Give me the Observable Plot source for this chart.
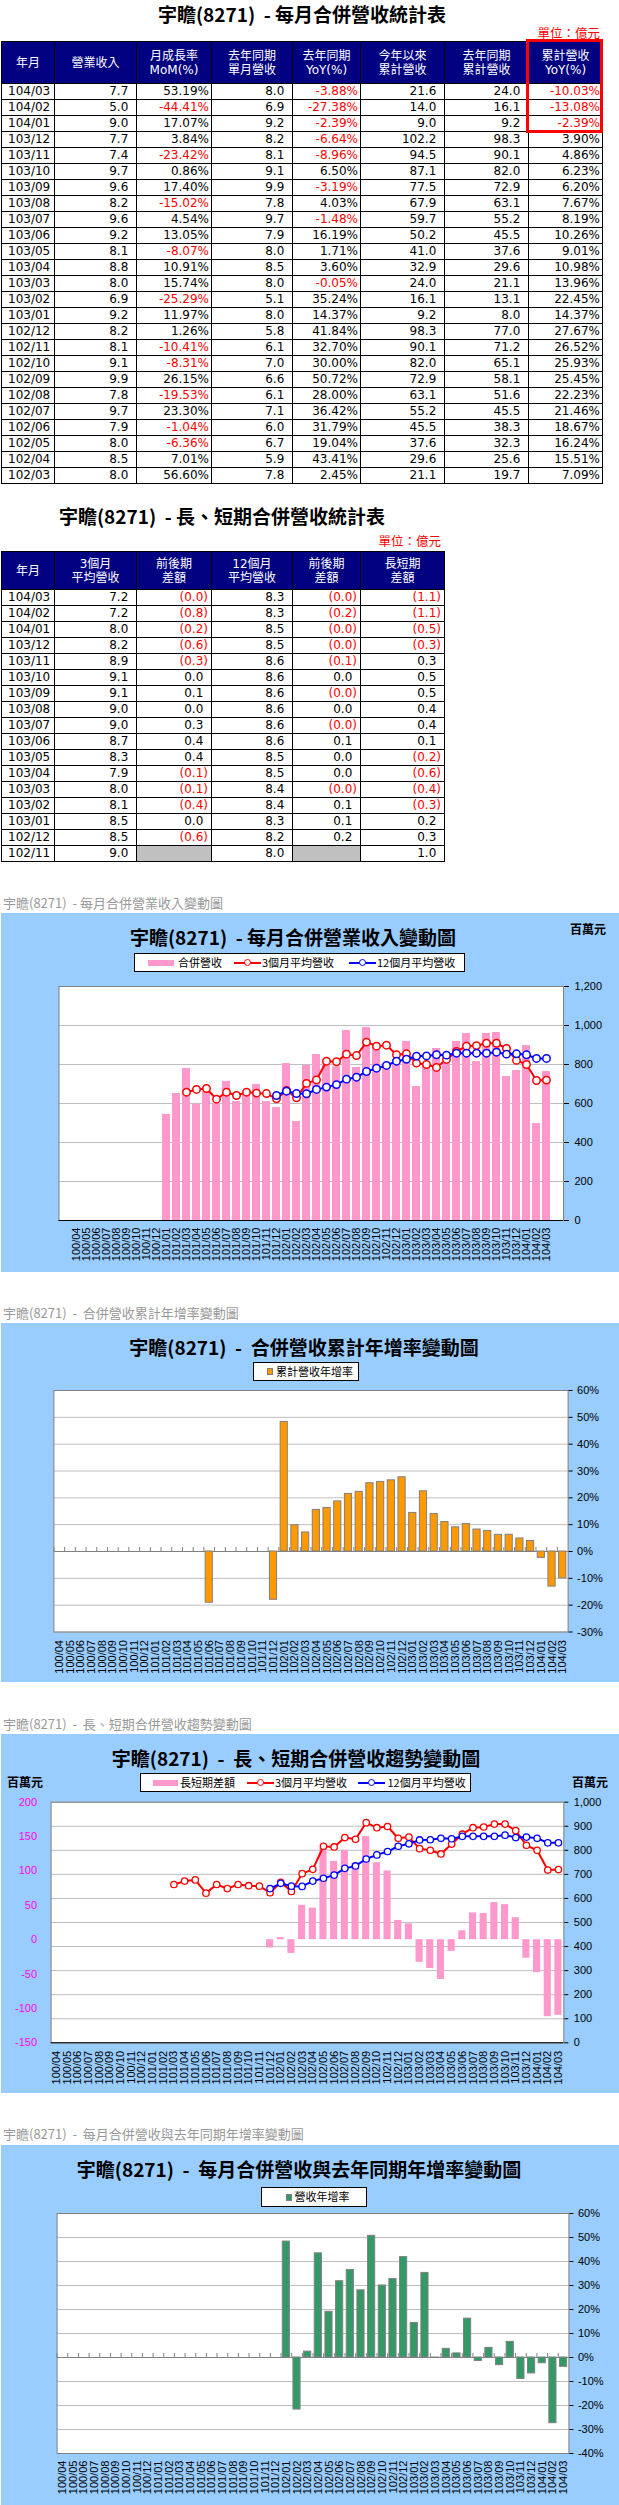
<!DOCTYPE html>
<html><head><meta charset="utf-8">
<script src="https://cdn.jsdelivr.net/npm/d3@7"></script>
<script src="https://cdn.jsdelivr.net/npm/@observablehq/plot@0.6"></script>
<style>
html,body{margin:0;padding:0;background:#fff}
body{position:relative;width:619px;height:2505px;overflow:hidden;font-family:"DejaVu Sans","Noto Sans CJK TC",sans-serif}
.a{position:absolute}
.ttl{position:absolute;font-family:"Noto Sans CJK TC",sans-serif;font-weight:bold;font-size:19px;line-height:20px;white-space:pre;text-align:center;color:#000;width:620px}
.unit{position:absolute;font-family:"Noto Sans CJK TC",sans-serif;font-size:12.5px;line-height:14px;color:#f00;text-align:right;white-space:pre;width:100px}
.tbl{position:absolute;display:grid;border-left:1px solid #000;border-top:1px solid #000}
.tbl>div{box-sizing:border-box;border-right:1px solid #000;border-bottom:1px solid #000;height:16px;line-height:15px;font-size:12px;text-align:right;padding-right:3px;white-space:nowrap;overflow:hidden;color:#000}
.tbl>div.h{background:#000080;color:#fff;display:flex;align-items:center;justify-content:center;text-align:center;line-height:14px;padding:0}
.tbl>div.l{text-align:left;padding-left:6px;padding-right:0}
.tbl>div.p{padding-right:2px}
.tbl>div.neg{color:#f00}
.tbl>div.g{background:#C0C0C0}
.hp{visibility:hidden}
.sec{position:absolute;left:3px;font-family:"Noto Sans CJK TC",sans-serif;font-size:13px;line-height:16px;color:#999;white-space:pre}
.panel{position:absolute;left:1px;width:618px;background:#99CCFF}
.lg{position:absolute;background:#fff;border:1px solid #000;box-sizing:border-box;height:19px;font-family:"Noto Sans CJK TC",sans-serif;font-size:11px;color:#000}
.lg>span{position:absolute;top:0;line-height:17px;white-space:nowrap}
.lg>i{position:absolute;display:block;box-sizing:border-box}
.ub{position:absolute;font-family:"Noto Sans CJK TC",sans-serif;font-weight:bold;font-size:12px;line-height:14px;color:#000;white-space:nowrap}
.redbox{position:absolute;left:526px;top:39px;width:77px;height:94px;border:3px solid #f00;box-sizing:border-box}
svg{position:absolute}
</style>
</head><body>
<script>
// ---------- table data ----------
const tYM = ["104/03","104/02","104/01","103/12","103/11","103/10","103/09","103/08","103/07","103/06","103/05","103/04","103/03","103/02","103/01","102/12","102/11","102/10","102/09","102/08","102/07","102/06","102/05","102/04","102/03"];
const tRev = [7.7,5.0,9.0,7.7,7.4,9.7,9.6,8.2,9.6,9.2,8.1,8.8,8.0,6.9,9.2,8.2,8.1,9.1,9.9,7.8,9.7,7.9,8.0,8.5,8.0];
const tMoM = [53.19,-44.41,17.07,3.84,-23.42,0.86,17.40,-15.02,4.54,13.05,-8.07,10.91,15.74,-25.29,11.97,1.26,-10.41,-8.31,26.15,-19.53,23.30,-1.04,-6.36,7.01,56.60];
const tLastRev = [8.0,6.9,9.2,8.2,8.1,9.1,9.9,7.8,9.7,7.9,8.0,8.5,8.0,5.1,8.0,5.8,6.1,7.0,6.6,6.1,7.1,6.0,6.7,5.9,7.8];
const tYoY = [-3.88,-27.38,-2.39,-6.64,-8.96,6.50,-3.19,4.03,-1.48,16.19,1.71,3.60,-0.05,35.24,14.37,41.84,32.70,30.00,50.72,28.00,36.42,31.79,19.04,43.41,2.45];
const tCum = [21.6,14.0,9.0,102.2,94.5,87.1,77.5,67.9,59.7,50.2,41.0,32.9,24.0,16.1,9.2,98.3,90.1,82.0,72.9,63.1,55.2,45.5,37.6,29.6,21.1];
const tLastCum = [24.0,16.1,9.2,98.3,90.1,82.0,72.9,63.1,55.2,45.5,37.6,29.6,21.1,13.1,8.0,77.0,71.2,65.1,58.1,51.6,45.5,38.3,32.3,25.6,19.7];
const tCumYoY = [-10.03,-13.08,-2.39,3.90,4.86,6.23,6.20,7.67,8.19,10.26,9.01,10.98,13.96,22.45,14.37,27.67,26.52,25.93,25.45,22.23,21.46,18.67,16.24,15.51,7.09];

const sYM = ["104/03","104/02","104/01","103/12","103/11","103/10","103/09","103/08","103/07","103/06","103/05","103/04","103/03","103/02","103/01","102/12","102/11"];
const sMA3 = [7.2,7.2,8.0,8.2,8.9,9.1,9.1,9.0,9.0,8.7,8.3,7.9,8.0,8.1,8.5,8.5,9.0];
const sD3 = [-0.04,-0.8,-0.2,-0.6,-0.3,0.0,0.1,0.0,0.3,0.4,0.4,-0.1,-0.1,-0.4,0.0,-0.6,null];
const sMA12 = [8.3,8.3,8.5,8.5,8.6,8.6,8.6,8.6,8.6,8.6,8.5,8.5,8.4,8.4,8.3,8.2,8.0];
const sD12 = [-0.04,-0.2,-0.04,-0.04,-0.1,0.0,-0.04,0.0,-0.04,0.1,0.0,0.0,-0.04,0.1,0.1,0.2,null];
const sLS = [-1.1,-1.1,-0.5,-0.3,0.3,0.5,0.5,0.4,0.4,0.1,-0.2,-0.6,-0.4,-0.3,0.2,0.3,1.0];

const head1 = ["年月","營業收入","月成長率<br>MoM(%)","去年同期<br>單月營收","去年同期<br>YoY(%)","今年以來<br>累計營收","去年同期<br>累計營收","累計營收<br>YoY(%)"];
const head2 = ["年月","3個月<br>平均營收","前後期<br>差額","12個月<br>平均營收","前後期<br>差額","長短期<br>差額"];

// ---------- chart data (百萬元 / %) ----------
const months = ["100/04","100/05","100/06","100/07","100/08","100/09","100/10","100/11","100/12",
"101/01","101/02","101/03","101/04","101/05","101/06","101/07","101/08","101/09","101/10","101/11","101/12",
"102/01","102/02","102/03","102/04","102/05","102/06","102/07","102/08","102/09","102/10","102/11","102/12",
"103/01","103/02","103/03","103/04","103/05","103/06","103/07","103/08","103/09","103/10","103/11","103/12",
"104/01","104/02","104/03"];
const revenue = [null,null,null,null,null,null,null,null,null,
544,651,779,597,662,600,713,610,655,697,610,579,
805,508,795,851,805,788,974,785,990,907,805,825,
918,687,795,882,805,918,959,815,959,964,738,769,
897,497,764];
const ma3 = [null,null,null,null,null,null,null,null,null,null,null,
658,672,677,622,658,641,658,653,651,624,
667,629,703,721,817,814,853,846,915,894,899,850,
855,807,800,785,826,867,894,897,909,909,882,821,
800,718,720];
const ma12 = [null,null,null,null,null,null,null,null,null,null,null,null,null,null,null,null,null,null,null,null,
641,
663,651,650,672,684,697,725,735,764,781,795,817,
827,843,844,850,848,858,858,858,858,863,853,855,
850,831,831];
const diffLS = [null,null,null,null,null,null,null,null,null,null,null,null,null,null,null,null,null,null,null,null,
-12,
3,-20,50,46,133,114,130,111,150,112,100,28,
23,-33,-42,-58,-17,13,39,38,54,51,32,-27,
-48,-112,-110];
const cumYoY = [null,null,null,null,null,null,null,null,null,null,null,null,null,null,
-19.1,null,null,null,null,null,-18.0,
48.3,9.8,7.09,15.51,16.24,18.67,21.46,22.23,25.45,25.93,26.52,27.67,
14.37,22.45,13.96,10.98,9.01,10.26,8.19,7.67,6.20,6.23,4.86,3.90,
-2.39,-13.08,-10.03];
const yoy = [null,null,null,null,null,null,null,null,null,null,null,null,null,null,null,null,null,null,null,null,null,
48.3,-21.7,2.45,43.41,19.04,31.79,36.42,28.00,50.72,30.00,32.70,41.84,
14.37,35.24,-0.05,3.60,1.71,16.19,-1.48,4.03,-3.19,6.50,-8.96,-6.64,
-2.39,-27.38,-3.88];

const ticksRev = [0,200,400,600,800,1000,1200];
const ticksCum = [-30,-20,-10,0,10,20,30,40,50,60];
const ticksYoY = [-40,-30,-20,-10,0,10,20,30,40,50,60];
const ticksR3 = [0,100,200,300,400,500,600,700,800,900,1000];
const ticksL3 = [-150,-100,-50,0,50,100,150,200];

// ---------- helpers ----------
const B = document.body;
function el(tag, cls, style, html){const e=document.createElement(tag); if(cls) e.className=cls; if(style) e.style.cssText=style; if(html!=null) e.innerHTML=html; B.appendChild(e); return e;}
const f1 = v => `${v.toFixed(1)}<span class="hp">)</span>`;
function cell(parent, cls, html){const c=document.createElement("div"); c.className=cls; c.innerHTML=html; parent.appendChild(c);}

// ---------- table 1 ----------
el("div","ttl","left:-8px;top:4px","宇瞻(8271)  - 每月合併營收統計表");
el("div","unit","left:500px;top:26px","單位：億元");
{
  const t = el("div","tbl","left:1px;top:41px;grid-template-columns:53px 82px 75px 81px 68px 84px 84px 74px");
  head1.forEach(h=>cell(t,"h",h));
  [...t.children].forEach(c=>c.style.height="42px");
  tYM.forEach((ym,i)=>{
    cell(t,"l",ym);
    cell(t,"",f1(tRev[i]));
    cell(t,"p"+(tMoM[i]<0?" neg":""),tMoM[i].toFixed(2)+"%");
    cell(t,"",f1(tLastRev[i]));
    cell(t,"p"+(tYoY[i]<0?" neg":""),tYoY[i].toFixed(2)+"%");
    cell(t,"",f1(tCum[i]));
    cell(t,"",f1(tLastCum[i]));
    cell(t,"p"+(tCumYoY[i]<0?" neg":""),tCumYoY[i].toFixed(2)+"%");
  });
}
el("div","redbox","");

// ---------- table 2 ----------
el("div","ttl","left:-88px;top:506px","宇瞻(8271)  - 長、短期合併營收統計表");
el("div","unit","left:341px;top:534px","單位：億元");
{
  const t = el("div","tbl","left:1px;top:551px;grid-template-columns:53px 82px 75px 81px 68px 84px");
  head2.forEach(h=>cell(t,"h",h));
  [...t.children].forEach(c=>c.style.height="38px");
  const par = (v)=> v==null ? ["g",""] : v<0 ? ["neg",`(${Math.abs(v).toFixed(1)})`] : ["",f1(v)];
  sYM.forEach((ym,i)=>{
    cell(t,"l",ym);
    cell(t,"",f1(sMA3[i]));
    let p=par(sD3[i]); cell(t,p[0],p[1]);
    cell(t,"",f1(sMA12[i]));
    p=par(sD12[i]); cell(t,p[0],p[1]);
    p=par(sLS[i]); cell(t,p[0],p[1]);
  });
}

// ---------- chart rows ----------
const rows = months.map((m,i)=>({m, rev:revenue[i], ma3:ma3[i], ma12:ma12[i], diff:diffLS[i], cyoy:cumYoY[i], yoy:yoy[i]}));
const has = k => rows.filter(d => d[k] != null);
const st = {background:"transparent", fontFamily:"'Liberation Sans', Arial, sans-serif", fontSize:"11px", color:"#000", overflow:"visible"};
function put(svg, top){svg.style.left="0px"; svg.style.top=top+"px"; B.appendChild(svg);}
function legendLine(box, left, color){
  const l=document.createElement("i"); l.style.cssText=`left:${left}px;top:7.5px;width:27px;height:2px;background:${color}`; box.appendChild(l);
  const c=document.createElement("i"); c.style.cssText=`left:${left+10}px;top:5px;width:7px;height:7px;border:1.5px solid ${color};border-radius:50%;background:#fff`; box.appendChild(c);
}
function span(box,left,txt){const s=document.createElement("span"); s.style.left=left+"px"; s.textContent=txt; box.appendChild(s);}

// ---------- chart 1 ----------
el("div","sec","top:895px","宇瞻(8271)  - 每月合併營業收入變動圖");
el("div","panel","top:913px;height:359px");
el("div","ttl","left:-17px;top:927px","宇瞻(8271)  - 每月合併營業收入變動圖");
el("div","ub","left:570px;top:922px","百萬元");
{
  const b = el("div","lg","left:134px;top:953px;width:331px");
  const sw=document.createElement("i"); sw.style.cssText="left:13px;top:5.5px;width:26px;height:6px;background:#FF99CC"; b.appendChild(sw);
  span(b,43,"合併營收"); legendLine(b,99,"#FF0000"); span(b,127,"3個月平均營收"); legendLine(b,214,"#0000FF"); span(b,242,"12個月平均營收");
}
put(Plot.plot({
  width:619, height:292, marginTop:6, marginBottom:52, marginLeft:58.5, marginRight:56, style:st,
  x:{type:"band", domain:months, paddingInner:0.22, paddingOuter:0.11, label:null},
  y:{domain:[0,1200], label:null},
  marks:[
    Plot.frame({fill:"#fff", stroke:"none"}),
    Plot.gridY(ticksRev, {stroke:"#BFBFBF", strokeOpacity:1}),
    Plot.barY(has("rev"), {x:"m", y:"rev", fill:"#FF99CC"}),
    Plot.lineY(has("ma3"), {x:"m", y:"ma3", stroke:"#FF0000", strokeWidth:2}),
    Plot.dot(has("ma3"), {x:"m", y:"ma3", r:3.7, fill:"#fff", stroke:"#FF0000", strokeWidth:1.5}),
    Plot.lineY(has("ma12"), {x:"m", y:"ma12", stroke:"#0000FF", strokeWidth:2}),
    Plot.dot(has("ma12"), {x:"m", y:"ma12", r:3.7, fill:"#fff", stroke:"#0000FF", strokeWidth:1.5}),
    Plot.frame({stroke:"#808080"}),
    Plot.ruleY([0], {stroke:"#000"}),
    Plot.axisY(ticksRev, {anchor:"right", tickSize:5, tickPadding:6, tickFormat:d3.format(",")}),
    Plot.axisX({anchor:"bottom", tickRotate:-90, tickSize:0, tickPadding:7})
  ]
}), 980);

// ---------- chart 2 ----------
el("div","sec","top:1305px","宇瞻(8271)  -  合併營收累計年增率變動圖");
el("div","panel","top:1323px;height:359px");
el("div","ttl","left:-6px;top:1337px","宇瞻(8271)  -  合併營收累計年增率變動圖");
{
  const b = el("div","lg","left:253px;top:1362px;width:106px");
  const sw=document.createElement("i"); sw.style.cssText="left:13px;top:5px;width:6px;height:7px;background:#FF9900;border:1px solid #808080"; b.appendChild(sw);
  span(b,22,"累計營收年增率");
}
{
  const ml=53.4, mr=51.4, step=(619-ml-mr)/months.length;
  put(Plot.plot({
    width:619, height:297, marginTop:5, marginBottom:50.5, marginLeft:ml, marginRight:mr, style:st,
    x:{type:"band", domain:months, paddingInner:0.33, paddingOuter:0.165, label:null},
    y:{domain:[-30,60], label:null},
    marks:[
      Plot.frame({fill:"#fff", stroke:"none"}),
      Plot.gridY(ticksCum, {stroke:"#BFBFBF", strokeOpacity:1}),
      Plot.ruleY([0], {stroke:"#808080"}),
      Plot.ruleX(months, {x:d=>d, y1:0, y2:1.5, dx:-step/2, stroke:"#808080"}),
      Plot.barY(has("cyoy"), {x:"m", y:"cyoy", fill:"#FF9900", stroke:"#808080", strokeWidth:1}),
      Plot.frame({stroke:"#808080"}),
      Plot.axisY(ticksCum, {anchor:"right", tickSize:4, tickPadding:5, tickFormat:d=>d+"%"}),
      Plot.axisX({anchor:"bottom", tickRotate:-90, tickSize:0, tickPadding:8})
    ]
  }), 1385);
}

// ---------- chart 3 ----------
el("div","sec","top:1716px","宇瞻(8271)  -  長、短期合併營收趨勢變動圖");
el("div","panel","top:1734px;height:359px");
el("div","ttl","left:-14px;top:1748px","宇瞻(8271)  -  長、短期合併營收趨勢變動圖");
el("div","ub","left:7px;top:1775px","百萬元");
el("div","ub","left:572px;top:1775px","百萬元");
{
  const b = el("div","lg","left:140px;top:1773px;width:331px");
  const sw=document.createElement("i"); sw.style.cssText="left:11.5px;top:5.5px;width:25px;height:6px;background:#FF99CC"; b.appendChild(sw);
  span(b,39,"長短期差額"); legendLine(b,106,"#FF0000"); span(b,134,"3個月平均營收"); legendLine(b,217,"#0000FF"); span(b,246.5,"12個月平均營收");
}
{
  const common = {width:619, height:297, marginTop:5.7, marginBottom:50.7, marginLeft:50.6, marginRight:55.7, style:st};
  const xs = {type:"band", domain:months, paddingInner:0.33, paddingOuter:0.165, label:null};
  put(Plot.plot({...common,
    x:xs, y:{domain:[0,1000], label:null},
    marks:[
      Plot.frame({fill:"#fff", stroke:"none"}),
      Plot.gridY(ticksR3, {stroke:"#BFBFBF", strokeOpacity:1}),
      Plot.frame({stroke:"#808080"}),
      Plot.ruleY([0], {stroke:"#000"}),
      Plot.axisY(ticksR3, {anchor:"right", tickSize:4, tickPadding:6, tickFormat:d3.format(",")}),
      Plot.axisX({anchor:"bottom", tickRotate:-90, tickSize:0, tickPadding:8})
    ]}), 1796);
  put(Plot.plot({...common,
    x:{...xs, axis:null}, y:{domain:[-150,200], label:null},
    marks:[
      Plot.barY(has("diff"), {x:"m", y:"diff", fill:"#FF99CC"}),
      Plot.axisY(ticksL3, {anchor:"left", tickSize:0, tickPadding:14, color:"#FF00FF", tickFormat:d=>String(d)})
    ]}), 1796);
  put(Plot.plot({...common,
    x:{...xs, axis:null}, y:{domain:[0,1000], label:null, axis:null},
    marks:[
      Plot.lineY(has("ma3"), {x:"m", y:"ma3", stroke:"#FF0000", strokeWidth:2}),
      Plot.dot(has("ma3"), {x:"m", y:"ma3", r:3.2, fill:"#fff", stroke:"#FF0000", strokeWidth:1.3}),
      Plot.lineY(has("ma12"), {x:"m", y:"ma12", stroke:"#0000FF", strokeWidth:2}),
      Plot.dot(has("ma12"), {x:"m", y:"ma12", r:3.2, fill:"#fff", stroke:"#0000FF", strokeWidth:1.3})
    ]}), 1796);
}

// ---------- chart 4 ----------
el("div","sec","top:2126px","宇瞻(8271)  -  每月合併營收與去年同期年增率變動圖");
el("div","panel","top:2145px;height:360px");
el("div","ttl","left:-11px;top:2159px","宇瞻(8271)  -  每月合併營收與去年同期年增率變動圖");
{
  const b = el("div","lg","left:261px;top:2187px;width:106px;height:20px");
  const sw=document.createElement("i"); sw.style.cssText="left:24px;top:5.5px;width:6px;height:7px;background:#339966;border:1px solid #808080"; b.appendChild(sw);
  span(b,32.5,"營收年增率");
}
{
  const ml=56.6, mr=50.6, step=(619-ml-mr)/months.length;
  put(Plot.plot({
    width:619, height:297, marginTop:5, marginBottom:52, marginLeft:ml, marginRight:mr, style:st,
    x:{type:"band", domain:months, paddingInner:0.33, paddingOuter:0.165, label:null},
    y:{domain:[-40,60], label:null},
    marks:[
      Plot.frame({fill:"#fff", stroke:"none"}),
      Plot.gridY(ticksYoY, {stroke:"#BFBFBF", strokeOpacity:1}),
      Plot.ruleY([0], {stroke:"#808080"}),
      Plot.ruleX(months, {x:d=>d, y1:0, y2:1.7, dx:-step/2, stroke:"#808080"}),
      Plot.barY(has("yoy"), {x:"m", y:"yoy", fill:"#339966", stroke:"#808080", strokeWidth:1}),
      Plot.frame({stroke:"#808080"}),
      Plot.axisY(ticksYoY, {anchor:"right", tickSize:4, tickPadding:5, tickFormat:d=>d+"%"}),
      Plot.axisX({anchor:"bottom", tickRotate:-90, tickSize:0, tickPadding:7})
    ]
  }), 2208);
}
</script>
</body></html>
